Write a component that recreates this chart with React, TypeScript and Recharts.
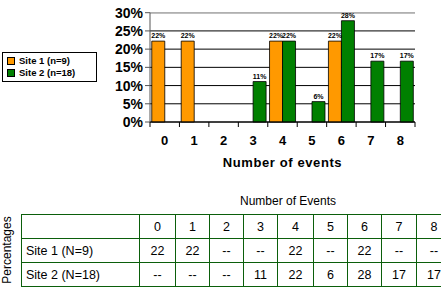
import React from "react";
import {
  BarChart,
  Bar,
  XAxis,
  YAxis,
  CartesianGrid,
  LabelList,
  ReferenceLine,
} from "recharts";

// chart data
const events = ["0", "1", "2", "3", "4", "5", "6", "7", "8"];
const site1 = [22.2, 22.2, null, null, 22.2, null, 22.2, null, null];
const site2 = [null, null, null, 11.1, 22.2, 5.6, 27.8, 16.7, 16.7];
const yTicks = [0, 5, 10, 15, 20, 25, 30];
const seriesNames = ["Site 1 (n=9)", "Site 2 (n=18)"];
const seriesColors = ["#FF9900", "#008000"];

// table data
const tableRows = ["Site 1 (N=9)", "Site 2 (N=18)"];
const table1 = ["22", "22", "--", "--", "22", "--", "22", "--", "--"];
const table2 = ["--", "--", "--", "11", "22", "6", "28", "17", "17"];

const data = events.map((e, i) => ({ name: e, s1: site1[i], s2: site2[i] }));

const FONT = "'Liberation Sans', Arial, sans-serif";
const PLOT_LEFT = 150;
const PLOT_RIGHT = 415;
const BAND = (PLOT_RIGHT - PLOT_LEFT) / events.length;

const XTick = (props) => {
  const { x, y, payload, index } = props;
  const half = BAND / 2;
  return (
    <g>
      <line x1={x - half} x2={x - half} y1={y - 8} y2={y - 3} stroke="#000" />
      {index === events.length - 1 && (
        <line x1={x + half} x2={x + half} y1={y - 8} y2={y - 3} stroke="#000" />
      )}
      <text
        x={x}
        y={y + 15}
        textAnchor="middle"
        fontSize={13}
        fontWeight="bold"
        fontFamily={FONT}
        fill="#000"
      >
        {payload.value}
      </text>
    </g>
  );
};

const TopLabel = (props) => {
  const { x, y, width, value } = props;
  if (value == null) return null;
  return (
    <text
      x={x + width / 2}
      y={y - 3}
      textAnchor="middle"
      fontSize={7}
      fontWeight="bold"
      fontFamily={FONT}
      fill="#000"
    >
      {Math.round(value)}%
    </text>
  );
};

const LegendBox = () => (
  <div
    style={{
      position: "absolute",
      left: 2,
      top: 52,
      border: "1px solid #000",
      padding: "2px 4px",
      fontFamily: FONT,
      fontSize: 9.5,
      fontWeight: "bold",
      lineHeight: "12px",
      width: 85,
      background: "#fff",
    }}
  >
    {seriesNames.map((n, i) => (
      <div key={n} style={{ display: "flex", alignItems: "center" }}>
        <span
          style={{
            display: "inline-block",
            width: 6,
            height: 6,
            background: seriesColors[i],
            border: "1px solid #000",
            marginRight: 4,
          }}
        />
        {n}
      </div>
    ))}
  </div>
);

const colWidths = [118, 36, 34, 34, 34, 36, 34, 34, 35, 35];

const cell = (w, align) => ({
  width: w,
  minWidth: w,
  maxWidth: w,
  border: "1.5px solid #0b5e0b",
  height: 22,
  padding: "0 4px",
  textAlign: align,
  boxSizing: "border-box",
  whiteSpace: "nowrap",
});

export default function App() {
  return (
    <div
      style={{
        position: "absolute",
        left: 0,
        top: 0,
        width: 441,
        height: 297,
        overflow: "hidden",
        background: "#fff",
        fontFamily: FONT,
      }}
    >
      <BarChart
        width={441}
        height={180}
        data={data}
        margin={{ top: 12.7, right: 441 - PLOT_RIGHT, left: 0, bottom: 0 }}
        barCategoryGap="6%"
        barGap={0}
      >
        <CartesianGrid vertical={false} stroke="#000" strokeWidth={1} />
        <ReferenceLine y={30} stroke="#b0b0b0" strokeWidth={1.5} />
        <XAxis
          dataKey="name"
          height={180 - 122}
          stroke="#000"
          tickLine={false}
          tick={<XTick />}
          interval={0}
          label={{
            value: "Number of events",
            position: "insideBottom",
            offset: 13,
            fontSize: 13,
            fontWeight: 900,
            letterSpacing: 0.6,
            fontFamily: FONT,
            fill: "#000",
          }}
        />
        <YAxis
          width={PLOT_LEFT}
          domain={[0, 30]}
          ticks={yTicks}
          interval={0}
          stroke="#555"
          tickSize={5}
          tickFormatter={(v) => `${v}%`}
          tick={{ fontSize: 14, fontWeight: "bold", fontFamily: FONT, fill: "#000" }}
        />
        <Bar
          dataKey="s1"
          name={seriesNames[0]}
          fill={seriesColors[0]}
          stroke="#000"
          strokeWidth={0.8}
          isAnimationActive={false}
        >
          <LabelList dataKey="s1" content={<TopLabel />} />
        </Bar>
        <Bar
          dataKey="s2"
          name={seriesNames[1]}
          fill={seriesColors[1]}
          stroke="#000"
          strokeWidth={0.8}
          isAnimationActive={false}
        >
          <LabelList dataKey="s2" content={<TopLabel />} />
        </Bar>
      </BarChart>

      <LegendBox />

      <div
        style={{
          position: "absolute",
          left: 235,
          top: 194,
          width: 106,
          textAlign: "center",
          fontSize: 12,
          color: "#000",
        }}
      >
        Number of Events
      </div>

      <div
        style={{
          position: "absolute",
          left: 7,
          top: 250,
          transform: "translate(-50%, -50%) rotate(-90deg)",
          fontSize: 12,
          whiteSpace: "nowrap",
          color: "#000",
        }}
      >
        Percentages
      </div>

      <table
        style={{
          position: "absolute",
          left: 21,
          top: 214,
          borderCollapse: "collapse",
          tableLayout: "fixed",
          fontSize: 12.5,
          color: "#000",
          fontFamily: FONT,
        }}
      >
        <tbody>
          <tr style={{ height: 24 }}>
            <td style={cell(colWidths[0], "left")} />
            {events.map((e, i) => (
              <td key={e} style={cell(colWidths[i + 1], "center")}>
                {e}
              </td>
            ))}
          </tr>
          {[table1, table2].map((row, r) => (
            <tr key={tableRows[r]} style={{ height: 24 }}>
              <td style={cell(colWidths[0], "left")}>{tableRows[r]}</td>
              {row.map((v, i) => (
                <td key={i} style={cell(colWidths[i + 1], "center")}>
                  {v}
                </td>
              ))}
            </tr>
          ))}
        </tbody>
      </table>
    </div>
  );
}
